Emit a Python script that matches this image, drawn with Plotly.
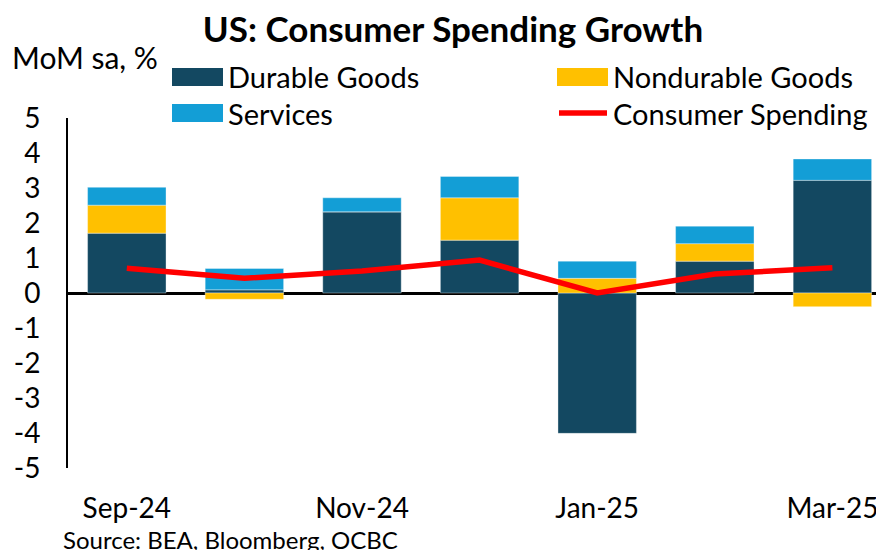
import plotly.graph_objects as go

months = ["Sep-24", "Oct-24", "Nov-24", "Dec-24", "Jan-25", "Feb-25", "Mar-25"]
durable = [1.71, 0.09, 2.32, 1.51, -4.01, 0.91, 3.22]
nondurable = [0.80, -0.18, 0.0, 1.21, 0.42, 0.50, -0.39]
services = [0.51, 0.61, 0.40, 0.61, 0.49, 0.50, 0.61]
spending = [0.71, 0.42, 0.63, 0.94, 0.00, 0.54, 0.72]
tick_labels = ["Sep-24", "Nov-24", "Jan-25", "Mar-25"]
y_ticks = [5, 4, 3, 2, 1, 0, -1, -2, -3, -4, -5]

C_DUR = "#134861"
C_NON = "#FFC000"
C_SER = "#139ED6"
C_RED = "#FF0000"
FONT = "Lato"

# page offset (browser body margin)
OFF = 8
L, T, PW, PH = 68 - OFF, 118 - OFF, 824, 350

fig = go.Figure()
edge = dict(color="rgba(255,255,255,0.6)", width=0.6)
fig.add_trace(go.Bar(x=months, y=durable, name="Durable Goods", marker=dict(color=C_DUR, line=edge), width=0.667))
fig.add_trace(go.Bar(x=months, y=nondurable, name="Nondurable Goods", marker=dict(color=C_NON, line=edge), width=0.667))
fig.add_trace(go.Bar(x=months, y=services, name="Services", marker=dict(color=C_SER, line=edge), width=0.667))
fig.add_trace(go.Scatter(x=months, y=spending, name="Consumer Spending", mode="lines",
                         line=dict(color=C_RED, width=5.5)))

fig.update_layout(
    width=884, height=550,
    barmode="relative",
    showlegend=False,
    plot_bgcolor="white", paper_bgcolor="white",
    margin=dict(l=L, r=884 - L - PW, t=T, b=550 - T - PH, autoexpand=False),
    font=dict(family=FONT, size=28, color="black"),
    title=dict(text="<b>US: Consumer Spending Growth</b>", x=(453 - OFF) / 884, xanchor="center",
               y=1 - (30 - OFF) / 550, yanchor="middle", font=dict(family=FONT, size=35, color="black")),
)
fig.update_xaxes(
    range=[-0.5, -0.5 + PW / 117.6], automargin=False,
    tickvals=tick_labels, ticktext=tick_labels,
    ticks="outside", ticklen=15, tickcolor="rgba(0,0,0,0)",
    showgrid=False, showline=False, zeroline=False,
    tickfont=dict(family=FONT, size=28),
)
fig.update_yaxes(
    range=[-5, 5], automargin=False,
    tickvals=y_ticks, ticktext=[str(v) for v in y_ticks],
    ticks="outside", ticklen=20, tickcolor="rgba(0,0,0,0)",
    showgrid=False, showline=True, linecolor="black", linewidth=2,
    zeroline=True, zerolinecolor="black", zerolinewidth=2.5,
    tickfont=dict(family=FONT, size=28),
)

# helpers: screen pixel -> paper coords
def px(x):
    return (x - OFF - L) / PW
def py(y):
    return (T + PH - (y - OFF)) / PH

# y-axis unit label
fig.add_annotation(text="MoM sa, %", xref="paper", yref="paper", x=px(10), y=py(57),
                   xanchor="left", yanchor="middle", showarrow=False,
                   font=dict(family=FONT, size=30))
# source
fig.add_annotation(text="Source: BEA, Bloomberg, OCBC", xref="paper", yref="paper",
                   x=px(61), y=py(539), xanchor="left", yanchor="middle",
                   showarrow=False, font=dict(family=FONT, size=24))

# manual legend
legend_items = [
    ("Durable Goods", C_DUR, "bar", 172, 77),
    ("Nondurable Goods", C_NON, "bar", 557, 77),
    ("Services", C_SER, "bar", 172, 113),
    ("Consumer Spending", C_RED, "line", 557, 113),
]
for name, col, kind, x0, yc in legend_items:
    if kind == "bar":
        fig.add_shape(type="rect", xref="paper", yref="paper",
                      x0=px(x0), x1=px(x0 + 51), y0=py(yc + 9), y1=py(yc - 9),
                      fillcolor=col, line=dict(width=0))
    else:
        fig.add_shape(type="line", xref="paper", yref="paper",
                      x0=px(x0 + 2), x1=px(x0 + 50), y0=py(yc), y1=py(yc),
                      line=dict(color=col, width=5.5))
    fig.add_annotation(text=name, xref="paper", yref="paper", x=px(x0 + 54), y=py(yc),
                       xanchor="left", yanchor="middle", showarrow=False,
                       font=dict(family=FONT, size=29))

fig.write_html("out.html")
